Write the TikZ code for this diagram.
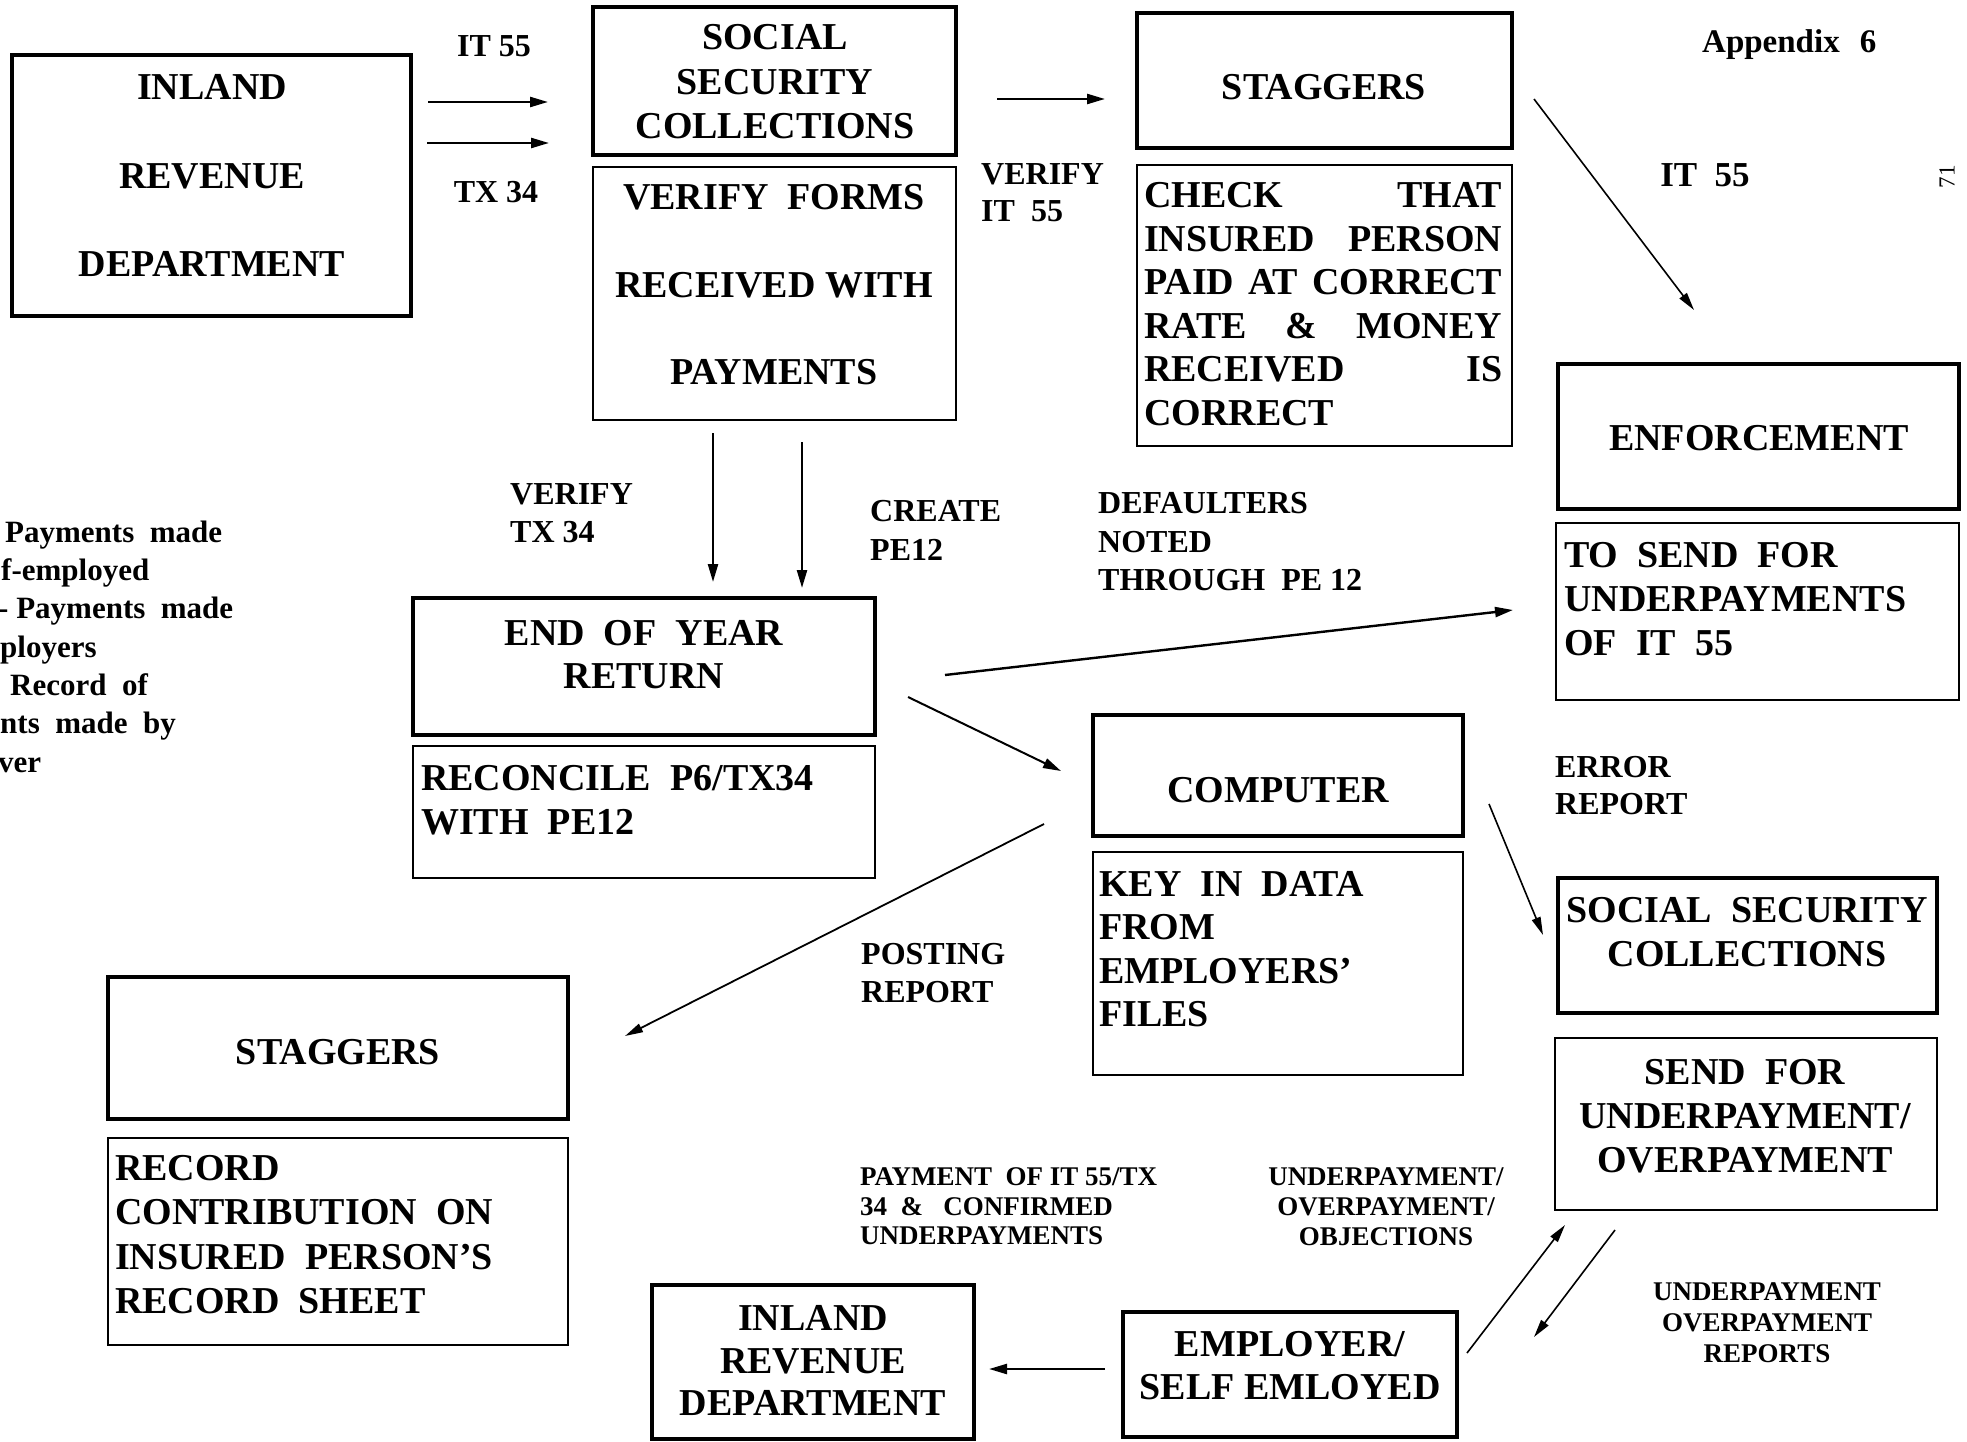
\documentclass[tikz,border=0pt]{standalone}
\usepackage{fontspec}
\setmainfont{Liberation Serif}
\usetikzlibrary{arrows.meta,fit}
\begin{document}
\begin{tikzpicture}[x=1pt,y=-1pt,
  tbox/.style={draw, line width=4pt, inner sep=0pt, outer sep=0pt},
  dbox/.style={draw, line width=2.2pt, inner sep=0pt, outer sep=0pt},
  big/.style={font=\fontsize{38}{44}\selectfont\bfseries, inner sep=0pt, align=center, text depth=0pt},
  bigl/.style={big, align=left},
  lab/.style={font=\fontsize{32}{38}\selectfont\bfseries, inner sep=0pt, align=left, text depth=0pt},
  sml/.style={font=\fontsize{27}{30}\selectfont\bfseries, inner sep=0pt, align=center, text depth=0pt},
  arr/.style={line width=2.4pt, -{Triangle[length=18pt,width=10pt]}},
  thin/.style={line width=1.6pt, -{Triangle[length=18pt,width=9pt]}}]
\useasboundingbox (0,0) rectangle (1967,1442);
\clip (0,0) rectangle (1967,1442);

% ---------- boxes ----------
\node[tbox, fit={(12,55) (411,316)}] (ird) {};
\node[tbox, fit={(593,7) (956,155)}] (ssc) {};
\node[dbox, fit={(593,167) (956,420)}] (ver) {};
\node[tbox, fit={(1137,13) (1512,148)}] (stag) {};
\node[dbox, fit={(1137,165) (1512,446)}] (chk) {};
\node[tbox, fit={(1558,364) (1959,509)}] (enf) {};
\node[dbox, fit={(1556,523) (1959,700)}] (tos) {};
\node[tbox, fit={(413,598) (875,735)}] (eoy) {};
\node[dbox, fit={(413,746) (875,878)}] (rec) {};
\node[tbox, fit={(1093,715) (1463,836)}] (comp) {};
\node[dbox, fit={(1093,852) (1463,1075)}] (key) {};
\node[tbox, fit={(1558,878) (1937,1013)}] (ssctwo) {};
\node[dbox, fit={(1555,1038) (1937,1210)}] (send) {};
\node[tbox, fit={(108,977) (568,1119)}] (stagtwo) {};
\node[dbox, fit={(108,1138) (568,1345)}] (rcd) {};
\node[tbox, fit={(652,1285) (974,1439)}] (irdtwo) {};
\node[tbox, fit={(1123,1312) (1457,1437)}] (emp) {};

% ---------- box texts ----------
\node[big, font=\fontsize{38}{88.5}\selectfont\bfseries] (irdT) at (212,175.5) {INLAND\\REVENUE\\DEPARTMENT};
\node[big, font=\fontsize{38}{44.5}\selectfont\bfseries] (sscT) at (775,81.5) {SOCIAL\\SECURITY\\COLLECTIONS};
\node[big, font=\fontsize{38}{87.5}\selectfont\bfseries] (verT) at (774,284.5) {VERIFY\ \ FORMS\\RECEIVED WITH\\PAYMENTS};
\node[big] (stagT) at (1324,87) {STAGGERS};
\node[bigl, font=\fontsize{38}{43.6}\selectfont\bfseries, anchor=west] (chkT) at (1144,304) {%
  \hbox to 358pt{CHECK\hfill THAT}\\
  \hbox to 358pt{INSURED\hfill PERSON}\\
  \hbox to 358pt{PAID\hfill AT\hfill CORRECT}\\
  \hbox to 358pt{RATE\hfill \&\hfill MONEY}\\
  \hbox to 358pt{RECEIVED\hfill IS}\\
  CORRECT};
\node[big] (enfT) at (1759,438) {ENFORCEMENT};
\node[bigl, anchor=west] (tosT) at (1564,599) {TO\ \ SEND\ \ FOR\\UNDERPAYMENTS\\OF\ \ IT\ \ 55};
\node[big, font=\fontsize{38}{43}\selectfont\bfseries] (eoyT) at (644,654.5) {END\ \ OF\ \ YEAR\\RETURN};
\node[bigl, anchor=west] (recT) at (421,800) {RECONCILE\ \ P6/TX34\\WITH\ \ PE12};
\node[big] (compT) at (1278,790) {COMPUTER};
\node[bigl, font=\fontsize{38}{43.3}\selectfont\bfseries, anchor=west] (keyT) at (1099,949) {KEY\ \ IN\ \ DATA\\FROM\\EMPLOYERS’\\FILES};
\node[big, font=\fontsize{38}{44.5}\selectfont\bfseries] (ssctwoT) at (1747,932) {SOCIAL\ \ SECURITY\\COLLECTIONS};
\node[big] (sendT) at (1745,1116) {SEND\ \ FOR\\UNDERPAYMENT/\\OVERPAYMENT};
\node[big] (stagtwoT) at (338,1052) {STAGGERS};
\node[bigl, font=\fontsize{38}{44.3}\selectfont\bfseries, anchor=west] (rcdT) at (115,1234.5) {RECORD\\CONTRIBUTION\ \ ON\\INSURED\ \ PERSON’S\\RECORD\ \ SHEET};
\node[big, font=\fontsize{38}{42.5}\selectfont\bfseries] (irdtwoT) at (813,1360.5) {INLAND\\REVENUE\\DEPARTMENT};
\node[big, font=\fontsize{38}{43}\selectfont\bfseries] (empT) at (1290,1365.5) {EMPLOYER/\\SELF EMLOYED};

% ---------- labels ----------
\node[lab] (itA) at (494,46) {IT 55};
\node[lab] (txA) at (496,192) {TX 34};
\node[lab, font=\fontsize{32}{37}\selectfont\bfseries, anchor=west] (verIT) at (981,192.5) {VERIFY\\IT\ \ 55};
\node[lab, anchor=west] (verTX) at (510,513) {VERIFY\\TX 34};
\node[lab, font=\fontsize{32}{39}\selectfont\bfseries, anchor=west] (create) at (870,530.5) {CREATE\\PE12};
\node[lab, font=\fontsize{32}{38.5}\selectfont\bfseries, anchor=west] (deflt) at (1098,541.5) {DEFAULTERS\\NOTED\\THROUGH\ \ PE 12};
\node[lab, font=\fontsize{32}{37}\selectfont\bfseries, anchor=west] (errr) at (1555,785.5) {ERROR\\REPORT};
\node[lab, anchor=west] (post) at (861,973) {POSTING\\REPORT};
\node[lab, font=\fontsize{35}{38}\selectfont\bfseries] (itB) at (1705,175) {IT\ \ 55};
\node[lab, font=\fontsize{33}{38}\selectfont\bfseries, anchor=base west] (appx) at (1702,53) {Appendix\hspace{20pt}6};
\node[font=\fontsize{23}{24}\selectfont, inner sep=0pt, rotate=90] (pg) at (1947,177) {71};
\node[sml, align=left, font=\fontsize{27}{29.5}\selectfont\bfseries, anchor=west] (paym) at (860,1206.5) {PAYMENT\ \ OF IT 55/TX\\34\ \ \&\ \ \ CONFIRMED\\UNDERPAYMENTS};
\node[sml] (upop) at (1386,1207) {UNDERPAYMENT/\\OVERPAYMENT/\\OBJECTIONS};
\node[sml, font=\fontsize{27}{31}\selectfont\bfseries] (uprep) at (1767,1323) {UNDERPAYMENT\\OVERPAYMENT\\REPORTS};
\node[lab, font=\fontsize{31}{38.33}\selectfont\bfseries, anchor=west] (legend) at (0,646.5) {%
  \hspace*{5pt}Payments\ \ made\\
  \hspace*{1pt}f-employed\\
  \hspace*{-2pt}-\ Payments\ \ made\\
  ployers\\
  \hspace*{10pt}Record\ \ of\\
  nts\ \ made\ \ by\\
  \hspace*{-2pt}ver};

% ---------- connector end points ----------
\coordinate (a1s) at (428,102);  \coordinate (a1e) at (548,102);
\coordinate (a2s) at (427,143);  \coordinate (a2e) at (549,143);
\coordinate (a3s) at (997,99);   \coordinate (a3e) at (1105,99);
\coordinate (a4s) at (1534,99);  \coordinate (a4e) at (1694,310);
\coordinate (a5s) at (713,433);  \coordinate (a5e) at (713,582);
\coordinate (a6s) at (802,442);  \coordinate (a6e) at (802,588);
\coordinate (a7s) at (945,675);  \coordinate (a7e) at (1513,610);
\coordinate (a8s) at (908,697);  \coordinate (a8e) at (1061,771);
\coordinate (a9s) at (1044,824); \coordinate (a9e) at (625,1036);
\coordinate (b1s) at (1489,804); \coordinate (b1e) at (1543,935);
\coordinate (b2s) at (1467,1353);\coordinate (b2e) at (1565,1225);
\coordinate (b3s) at (1615,1230);\coordinate (b3e) at (1534,1337);
\coordinate (b4s) at (1105,1369);\coordinate (b4e) at (989,1369);

% ---------- connectors ----------
\draw[arr] (a1s) -- (a1e);   % IRD -> SSC (IT 55)
\draw[arr] (a2s) -- (a2e);   % IRD -> SSC (TX 34)
\draw[arr] (a3s) -- (a3e);   % SSC -> STAGGERS
\draw[thin] (a4s) -- (a4e);  % STAGGERS -> ENFORCEMENT
\draw[arr] (a5s) -- (a5e);   % VERIFY -> END OF YEAR
\draw[arr] (a6s) -- (a6e);
\draw[arr] (a7s) -- (a7e);   % END OF YEAR -> ENFORCEMENT
\draw[arr, line width=2pt] (a8s) -- (a8e);   % END OF YEAR -> COMPUTER
\draw[thin, line width=1.8pt] (a9s) -- (a9e);  % COMPUTER -> STAGGERS
\draw[thin] (b1s) -- (b1e);  % COMPUTER -> SSC
\draw[thin] (b2s) -- (b2e);  % EMPLOYER -> SEND
\draw[thin] (b3s) -- (b3e);  % SEND -> EMPLOYER
\draw[arr] (b4s) -- (b4e);   % EMPLOYER -> IRD
\end{tikzpicture}
\end{document}
